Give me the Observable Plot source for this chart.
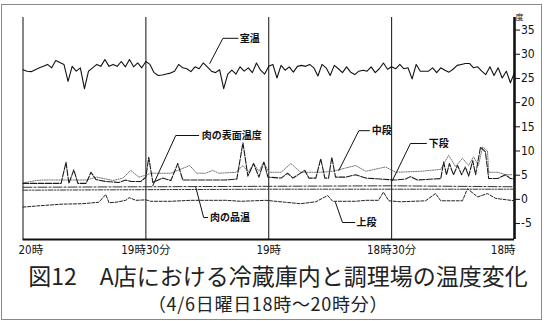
<!DOCTYPE html>
<html><head><meta charset="utf-8">
<script src="https://cdn.jsdelivr.net/npm/d3@7"></script>
<script src="https://cdn.jsdelivr.net/npm/@observablehq/plot@0.6"></script>
<style>
html,body{margin:0;padding:0;background:#fff;}
#wrap{position:relative;width:552px;height:321px;overflow:hidden;background:#fff;}
#frame{position:absolute;left:1px;top:4px;width:541px;height:316px;border:1.5px solid #8a8a8a;box-sizing:border-box;}
#chart{position:absolute;left:0;top:0;}
.t1{position:absolute;left:0;width:552px;text-align:center;font-family:"Noto Sans CJK JP",sans-serif;color:#222;white-space:nowrap;line-height:1;}
</style></head>
<body><div id="wrap"><div id="frame"></div><div id="chart"></div>
<div class="t1" id="title" style="top:264px;font-size:23px;left:2px;">図12　A店における冷蔵庫内と調理場の温度変化</div>
<div class="t1" id="sub" style="top:294px;font-size:18px;left:-8px;letter-spacing:0.7px;">（4/6日曜日18時～20時分）</div>
</div>
<script>
// time in minutes after 18:00 (axis runs 20時 → 18時, left to right)
const xTickT = [120, 90, 60, 30, 0];
const xTickLabels = ["20時", "19時30分", "19時", "18時30分", "18時"];
const yTicks = [-5, 0, 5, 10, 15, 20, 25, 30, 35];
const yDomain = [-8.3, 37.6];

// 室温 (one reading per minute, from 20時 to 18時)
const roomV = [
 26.8,26.5,26.4,26.8,27.2,27.5,27.9,27.2,28.7,28.3,
 27.9,24.4,27.5,26.5,27.2,22.9,26.5,27.2,27.9,27.5,
 28.9,27.5,27.9,27.5,28.5,27.4,28.9,27.4,28.2,27.2,
 28.5,27.9,26.2,25.6,25.7,25.9,26.1,26.5,27.9,27.2,
 27.0,26.4,27.4,27.0,28.2,27.4,26.5,26.2,26.8,22.9,
 25.9,26.7,25.9,27.4,26.5,27.2,26.2,28.2,26.7,25.9,
 27.5,27.9,25.1,27.7,26.7,27.4,26.3,27.5,27.7,27.5,
 27.9,27.2,25.5,27.9,27.2,25.6,27.7,27.0,26.2,27.4,
 26.3,25.8,26.5,26.7,26.5,27.4,26.2,27.0,28.2,26.9,
 27.4,27.0,27.9,27.0,27.2,24.9,27.9,26.5,26.5,26.5,
 27.2,26.2,27.2,26.7,26.3,26.9,27.7,27.9,28.1,28.1,
 27.2,27.4,26.5,25.8,27.4,25.6,27.2,25.1,26.5,24.1,26.2
];
const roomT = roomV.map((_, i) => 120 - i);

// 中段
const midT = [120,116.8,115,110,104.6,102,98,95.6,93.7,91.7,90,88.8,83.9,79.3,77.6,75.4,73.7,72.2,68,66.3,65,63.7,62.4,61.2,60,57,54.6,52.2,47.3,44.4,38.8,36.3,31.5,29,22.9,18,17.6,16.1,14.4,12.7,11.2,10,8.8,7.8,6.6,6.3,4.1,2.2,0.5];
const midV = [3.4,3.9,4.0,4.0,4.0,4.6,3.9,4.4,6.0,4.6,5.0,5.4,5.4,7.0,5.4,5.4,6.0,5.4,5.6,7.0,5.6,7.4,5.8,7.7,5.6,5.6,7.4,5.6,5.6,5.8,7.0,5.8,6.7,5.6,5.8,6.2,6.8,9.1,6.8,8.5,7.0,8.8,7.0,10.8,10.0,5.6,5.6,5.1,5.1];

// 下段
const lowT = [120,113.7,110.7,109.5,108.8,107.6,106.6,104.6,103.4,102.2,99.8,96.6,94.9,93.7,91.2,90,89.3,88.3,85.9,83.9,82.2,81,77.8,74.1,70.5,67.8,66.3,65.1,63.7,62.4,61.2,60.2,57,55.4,54.1,51.2,50.2,48.5,47.3,46.3,45.4,44.6,43.7,41.2,38.8,36.3,32.7,29,26.6,25.4,23.7,18,17.3,16.6,15.9,14.9,13.9,12.9,12,11.2,10.2,9.5,8.3,7.1,6.3,4.1,2.2,1,0];
const lowV = [3.3,3.3,3.3,7.7,3.3,6.1,3.3,3.3,5.6,4.1,3.7,3.5,4.0,3.7,3.7,4.6,8.7,3.5,4.4,3.9,7.4,4.0,4.0,4.0,4.0,4.2,11.7,4.8,7.4,4.6,7.7,4.6,4.4,5.4,4.4,6.0,4.4,4.4,8.4,4.4,4.4,8.7,4.6,4.6,5.1,4.4,4.2,4.0,4.2,4.7,4.0,4.3,7.7,5.1,7.4,5.1,7.0,5.1,6.7,4.8,8.0,5.1,10.8,9.8,4.3,4.3,5.1,4.3,4.2];

// 上段
const upT = [120,115.6,110.7,105.4,101.5,99.8,99,97.3,94.9,94.1,92.4,90,88.8,83.9,79,70.5,66.8,63.7,60.7,55.9,52.2,48.5,45.6,44.4,38.8,36.3,33.2,32,30.7,27.8,21.7,19.3,18,12.7,11.5,9,6.6,4.6,0];
const upV = [-1.6,-1.3,-1.0,-0.9,-0.6,1.0,-0.7,-0.6,-0.2,0.35,-0.2,-0.1,-0.4,-0.4,-0.2,-0.2,-0.4,-0.3,-0.2,-0.6,-0.9,-0.5,0.8,-0.4,-0.4,-0.2,-0.2,1.5,-0.3,-0.5,-0.3,1.2,-0.3,-0.3,2.2,0.5,1.2,0.2,-0.3];

// 肉の表面温度 / 肉の品温
const surfT = [120, 90, 60, 30, 0];
const surfV = [2.5, 2.6, 2.7, 2.8, 2.6];
const coreT = [120, 60, 0];
const coreV = [1.9, 2.1, 2.1];

// 注記 (label position and leader path, in data units)
const noteNames = ["室温", "肉の表面温度", "中段", "下段", "肉の品温", "上段"];
const noteT = [67.3, 76.6, 35.1, 21.2, 74.6, 38.8];
const noteV = [33.3, 13.2, 14.2, 11.55, -3.75, -4.79];
const leaderT = [[67.5,71.2,74.4],[77.1,82.7,88.3],[35.4,38,42.9],[21.5,25.4,29.8],[74.9,75.9,77.8],[39,42,43.7]];
const leaderV = [[33.3,33.3,28.1],[13.2,13.2,2.86],[14.2,14.2,5.96],[11.55,11.55,3.9],[-3.75,-3.75,2.45],[-4.79,-4.79,-0.65]];

const tbl = (T, V) => T.map((t, i) => ({t, v: V[i]}));
const room = tbl(roomT, roomV), mid = tbl(midT, midV), low = tbl(lowT, lowV), up = tbl(upT, upV);
const surf = tbl(surfT, surfV), core = tbl(coreT, coreV);
const notes = noteNames.map((n, i) => ({n, t: noteT[i], v: noteV[i]}));
const leaders = leaderT.flatMap((T, k) => T.map((t, j) => ({k, t, v: leaderV[k][j]})));
const xt = xTickT.map((t, i) => ({t, label: xTickLabels[i]}));

const numFont = '"Liberation Sans Narrow","DejaVu Sans Condensed","Noto Sans CJK JP",sans-serif';
const jp = '"Noto Sans CJK JP",sans-serif';

const chart = Plot.plot({
  width: 552, height: 262,
  marginLeft: 22.5, marginRight: 38, marginTop: 17, marginBottom: 23,
  x: {domain: [120, 0], axis: null},
  y: {domain: yDomain, axis: null},
  style: {fontFamily: numFont, color: "#111", background: "transparent"},
  marks: [
    Plot.ruleX(xTickT.slice(0, 4), {x: d => d, stroke: "#111", strokeWidth: 1}),
    Plot.ruleX([0], {stroke: "#111", strokeWidth: 2.6}),
    Plot.ruleY([yDomain[0]], {stroke: "#111", strokeWidth: 2.2}),
    Plot.axisY({anchor: "right", label: null, ticks: yTicks, tickSize: 5, tickPadding: 1.5, fontSize: 12, tickFormat: d => String(d), stroke: "#111", fill: "#111"}),
    Plot.text(["度"], {frameAnchor: "top-right", dx: 9, dy: -3, fontSize: 8, fontFamily: jp, fill: "#111"}),
    Plot.text(xt.slice(0, 1), {x: "t", y: yDomain[0], text: "label", dy: 11, dx: -4.5, textAnchor: "start", fontSize: 11.5, fill: "#111"}),
    Plot.text(xt.slice(1, 4), {x: "t", y: yDomain[0], text: "label", dy: 11, textAnchor: "middle", fontSize: 11.5, fill: "#111"}),
    Plot.text(xt.slice(4), {x: "t", y: yDomain[0], text: "label", dy: 11, dx: 1, textAnchor: "end", fontSize: 11.5, fill: "#111"}),
    Plot.line(up, {x: "t", y: "v", stroke: "#222", strokeWidth: 1, strokeDasharray: "3,1.6"}),
    Plot.line(core, {x: "t", y: "v", stroke: "#333", strokeWidth: 1, strokeDasharray: "5,1.5,1.5,1.5,1.5,1.5"}),
    Plot.line(surf, {x: "t", y: "v", stroke: "#333", strokeWidth: 1, strokeDasharray: "9,2,2,2"}),
    Plot.line(mid, {x: "t", y: "v", stroke: "#777", strokeWidth: 1, strokeDasharray: "1.2,1.2"}),
    Plot.line(low, {x: "t", y: "v", stroke: "#1a1a1a", strokeWidth: 1.1, strokeDasharray: "6,1.5"}),
    Plot.line(room, {x: "t", y: "v", stroke: "#111", strokeWidth: 1.1}),
    Plot.line(leaders, {x: "t", y: "v", z: "k", stroke: "#111", strokeWidth: 1}),
    Plot.text(notes, {x: "t", y: "v", text: "n", textAnchor: "start", dx: 1, fontSize: 10, fontWeight: "bold", fontFamily: jp, fill: "#111"})
  ]
});
document.getElementById("chart").appendChild(chart);
</script>
</body></html>
